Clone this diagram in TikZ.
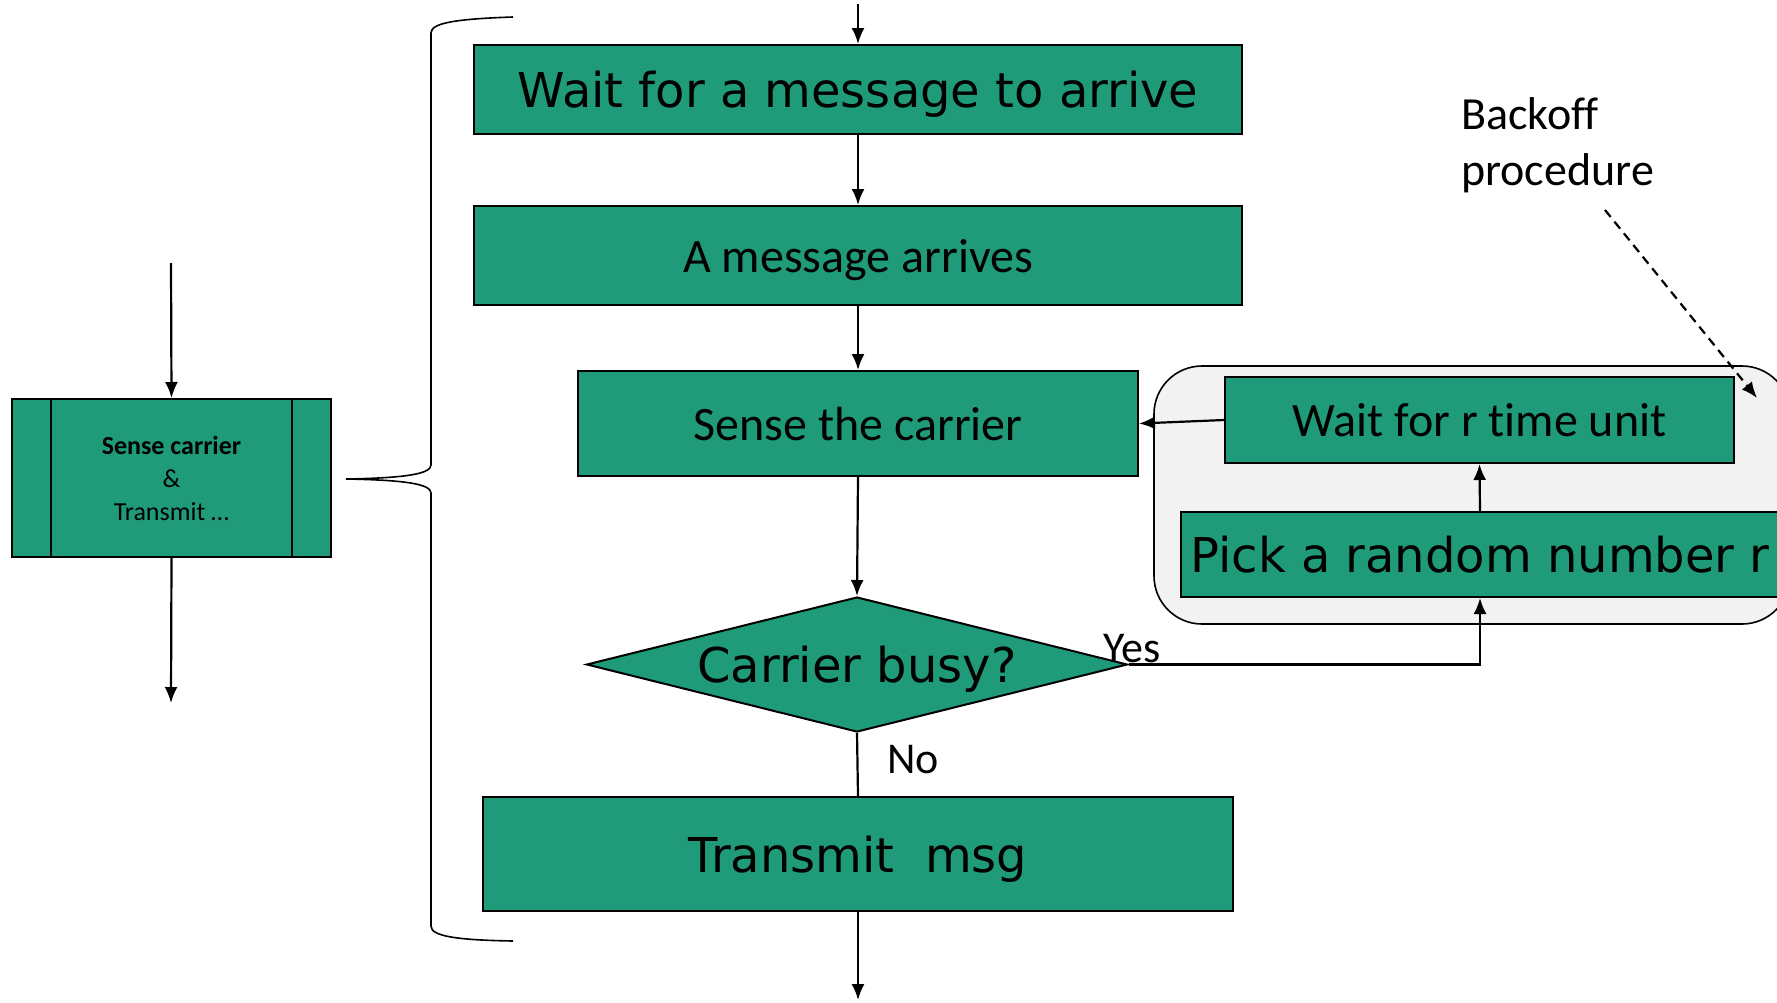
\documentclass[tikz,border=0pt]{standalone}
\usepackage{fontspec}
\setmainfont[Ligatures=NoCommon]{Carlito}
\newfontfamily\dv{DejaVu Sans}
\newfontfamily\cb[Ligatures=NoCommon]{Carlito}
\usetikzlibrary{arrows.meta,shapes.geometric}
\definecolor{boxgreen}{HTML}{1F9B7A}
\definecolor{panelgray}{HTML}{F2F2F2}
\tikzset{
  gbox/.style={draw=black, line width=2pt, fill=boxgreen, inner sep=0pt, text=black},
  conn/.style={line width=2.2pt, -{Latex[length=16pt,width=13pt]}},
  plain/.style={line width=2.2pt},
  dvbig/.style={font=\dv\fontsize{48}{58}\selectfont, text depth=0pt},
  cbbig/.style={font=\cb\fontsize{48}{58}\selectfont, text depth=0pt},
  lbl/.style={font=\cb\fontsize{44}{52}\selectfont, inner sep=0pt},
}
\begin{document}
\begin{tikzpicture}[x=1pt,y=-1pt]
\useasboundingbox (0,0) rectangle (1777,1002);
% backoff panel
\draw[line width=1.6pt, fill=panelgray, rounded corners=48pt] (1154,366) rectangle (1790,624);
% main boxes
\node[gbox, dvbig, minimum width=768pt, minimum height=89pt] (w1) at (858,89.5) {Wait for a message to arrive};
\node[gbox, cbbig, minimum width=768pt, minimum height=99pt] (arr) at (858,255.5) {A message arrives};
\node[gbox, cbbig, minimum width=560pt, minimum height=105pt] (sense) at (858,423.5) {Sense the carrier};
\node[gbox, dvbig, diamond, aspect=4, minimum width=541pt, minimum height=135pt] (busy) at (857,664.5) {Carrier busy?};
\node[gbox, dvbig, minimum width=750pt, minimum height=114pt] (trans) at (858,854) {Transmit\ \ msg};
\node[gbox, cbbig, minimum width=509pt, minimum height=86pt] (waitr) at (1479.5,420) {Wait for r time unit};
\node[gbox, dvbig, minimum width=598pt, minimum height=85pt] (pick) at (1480,554.5) {Pick a random number r};
% left box
\node[gbox, minimum width=319pt, minimum height=158pt, align=center, font=\cb\fontsize{26}{33}\selectfont] (lbox) at (171.5,478)
  {\textbf{Sense carrier}\\\&\\Transmit …};
\draw[plain] ([xshift=40pt]lbox.north west) -- ([xshift=40pt]lbox.south west);
\draw[plain] ([xshift=-40pt]lbox.north east) -- ([xshift=-40pt]lbox.south east);
% coordinates
\coordinate (top) at (858,4);
\coordinate (bot) at (858,1000);
\coordinate (ltop) at (171,263);
\coordinate (lbot) at (171,703);
\coordinate (dstart) at (1605,210);
\coordinate (dend) at (1757,398);
% connectors
\draw[conn] (top) -- (w1.north);
\draw[conn] (w1.south) -- (arr.north);
\draw[conn] (arr.south) -- (sense.north);
\draw[conn] (sense.south) -- (busy.north);
\draw[plain] (busy.south) -- (trans.north);
\draw[conn] (trans.south) -- (bot);
\draw[conn] (busy.east) -| (pick.south);
\draw[conn] (pick.north) -- (waitr.south);
\draw[conn] (waitr.west) -- (sense.east);
\draw[conn] (ltop) -- (lbox.north);
\draw[conn] (lbox.south) -- (lbot);
\draw[line width=2.2pt, dashed, dash pattern=on 9pt off 6pt, -{Latex[length=16pt,width=13pt]}] (dstart) -- (dend);
% labels
\node[lbl, anchor=base west] (yes) at (1103,662) {Yes};
\node[lbl, anchor=base west] (no) at (887,773) {No};
\node[font=\cb\fontsize{46}{56}\selectfont, align=left, anchor=base west, inner sep=0pt] (backoff) at (1461,185) {Backoff\\procedure};
% brace
\draw[line width=1.6pt] (513,17) .. controls (455,19) and (431,23) .. (431,33) -- (431,465)
  .. controls (431,474) and (405,478) .. (346,479)
  .. controls (405,480) and (431,484) .. (431,493) -- (431,926)
  .. controls (431,936) and (455,940) .. (513,941);
\end{tikzpicture}
\end{document}
